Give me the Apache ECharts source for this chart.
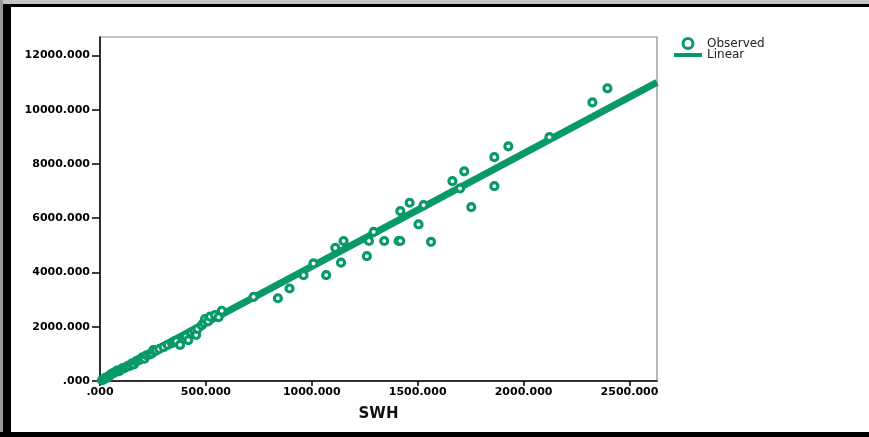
<!DOCTYPE html>
<html>
<head>
<meta charset="utf-8">
<script src="https://cdn.jsdelivr.net/npm/echarts@6/dist/echarts.min.js"></script>
<style>
html,body{margin:0;padding:0;background:#fff;}
#chart{width:869px;height:437px;}
</style>
</head>
<body>
<div id="chart"></div>
<script>
// Observed points: [SWH, value]
const observedSWH = [10,18,25,32,40,48,55,65,72,80,90,100,108,115,125,133,140,150,160,170,180,190,200,210,220,235,245,252,265,280,300,320,340,352,360,378,395,405,417,430,445,454,460,480,490,496,510,520,543,560,575,
  725,840,895,961,1008,1068,1111,1138,1150,1260,1270,1292,1342,1410,1418,1418,1462,1504,1528,1563,1664,1700,1720,1753,1862,1862,1928,2122,2325,2396];
const observedValue = [30,60,120,110,150,230,260,300,330,380,360,430,480,470,520,560,560,640,610,720,760,800,870,820,950,980,1020,1140,1120,1180,1250,1330,1400,1460,1470,1330,1560,1640,1510,1780,1850,1700,1920,2050,2150,2280,2200,2370,2430,2350,2590,
  3100,3050,3410,3900,4335,3900,4910,4360,5160,4600,5160,5500,5160,5160,5160,6260,6570,5770,6480,5130,7370,7100,7730,6410,8250,7180,8650,8990,10270,10790];
// Linear fit endpoints
const linearSWH = [0, 2630];
const linearValue = [60, 11010];
// Tick values
const xTicks = [0,500,1000,1500,2000,2500];
const yTicks = [0,2000,4000,6000,8000,10000,12000];

const green = '#079a66';
const fmt = v => v === 0 ? '.000' : v.toFixed(3);

const chart = echarts.init(document.getElementById('chart'), null, {renderer:'canvas'});
chart.setOption({
  animation: false,
  backgroundColor: '#fff',
  grid: {left:100, top:37, width:557, height:344, show:true, borderColor:'#888', borderWidth:1.2, backgroundColor:'transparent'},
  legend: {
    orient:'vertical', left:672, top:37, padding:0, itemWidth:28, itemHeight:10, itemGap:-1,
    textStyle:{fontFamily:'DejaVu Sans', fontSize:12, color:'#222', lineHeight:11},
    data:[
      {name:'Observed', icon:'circle', itemStyle:{color:'#fff', borderColor:green, borderWidth:3}},
      {name:'Linear', itemStyle:{color:'rgba(0,0,0,0)', borderWidth:0, opacity:0}, lineStyle:{width:4, color:green}}
    ]
  },
  xAxis: {
    type:'value', min:0, max:2630,
    name:'SWH', nameLocation:'middle', nameGap:26,
    nameTextStyle:{fontFamily:'DejaVu Sans', fontWeight:'bold', fontSize:15, color:'#111'},
    splitLine:{show:false},
    axisLine:{show:true, onZero:false, lineStyle:{color:'#000', width:1.5}},
    axisTick:{show:true, length:5, customValues:xTicks, lineStyle:{color:'#000', width:1.5}},
    axisLabel:{customValues:xTicks, formatter:fmt, margin:6, fontFamily:'DejaVu Sans', fontWeight:'bold', fontSize:11, color:'#000'}
  },
  yAxis: {
    type:'value', min:0, max:12680,
    splitLine:{show:false},
    axisLine:{show:true, onZero:false, lineStyle:{color:'#000', width:1.5}},
    axisTick:{show:true, length:8, customValues:yTicks, lineStyle:{color:'#000', width:1.5}},
    axisLabel:{customValues:yTicks, formatter:fmt, margin:10, fontFamily:'DejaVu Sans', fontWeight:'bold', fontSize:11, color:'#000'}
  },
  series: [
    {
      name:'Linear', type:'line', showSymbol:false, symbol:'none', z:2,
      data: linearSWH.map((x,i)=>[x, linearValue[i]]),
      lineStyle:{color:green, width:7},
      itemStyle:{color:green}
    },
    {
      name:'Observed', type:'scatter', symbol:'circle', symbolSize:7, z:3,
      data: observedSWH.map((x,i)=>[x, observedValue[i]]),
      itemStyle:{color:'#fff', borderColor:green, borderWidth:3.2, opacity:1}
    }
  ],
  graphic: [
    {type:'rect', shape:{x:0,y:0,width:869,height:4}, style:{fill:'#c4c4c4'}, silent:true},
    {type:'rect', shape:{x:0,y:4,width:869,height:3}, style:{fill:'#000'}, silent:true},
    {type:'rect', shape:{x:0,y:0,width:3,height:437}, style:{fill:'#9a9a9a'}, silent:true},
    {type:'rect', shape:{x:3,y:4,width:8,height:433}, style:{fill:'#000'}, silent:true},
    {type:'rect', shape:{x:0,y:432,width:869,height:5}, style:{fill:'#000'}, silent:true}
  ]
});
</script>
</body>
</html>
